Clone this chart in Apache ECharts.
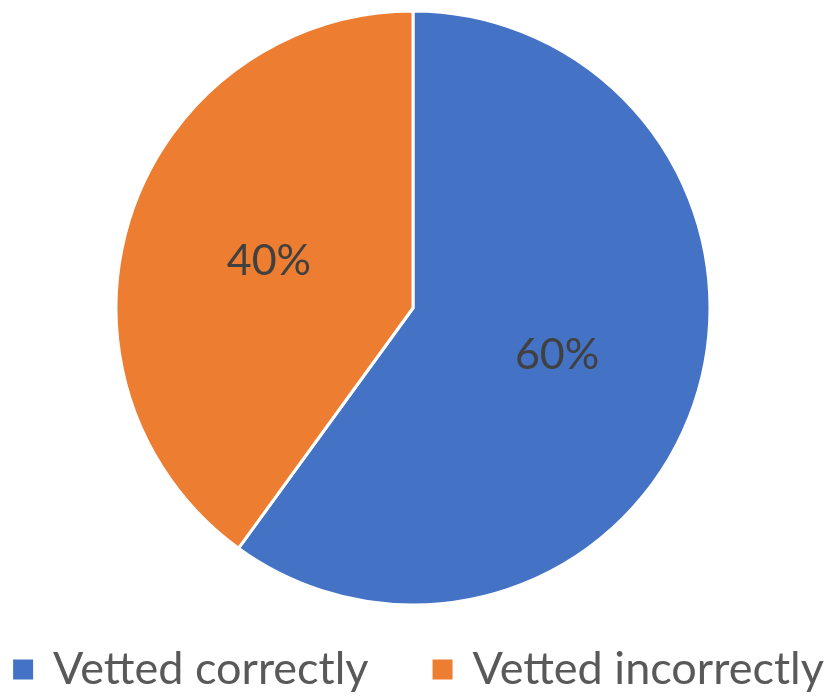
<!DOCTYPE html>
<html>
<head>
<meta charset="utf-8">
<script src="https://cdn.jsdelivr.net/npm/echarts@6/dist/echarts.min.js"></script>
<style>
html,body{margin:0;padding:0;background:#fff;}
#chart{width:835px;height:696px;}
</style>
</head>
<body>
<div id="chart"></div>
<script>
const categories = ["Vetted correctly", "Vetted incorrectly"];
const values = [60, 40];
const colors = ["#4472C4", "#ED7D31"];

const chart = echarts.init(document.getElementById('chart'), null, {renderer: 'canvas'});
chart.setOption({
  animation: false,
  color: colors,
  legend: {
    data: categories,
    left: 'center',
    top: 642,
    itemWidth: 22,
    itemHeight: 22,
    itemGap: 62,
    icon: 'rect',
    textStyle: {
      fontFamily: 'Lato',
      fontSize: 45,
      color: '#595959',
      padding: [0, 0, 0, 14]
    }
  },
  series: [{
    type: 'pie',
    center: [413, 308],
    radius: 297,
    startAngle: 90,
    clockwise: true,
    data: categories.map((c, i) => ({name: c, value: values[i]})),
    itemStyle: {borderColor: '#fff', borderWidth: 3},
    label: {
      show: true,
      position: 'inside',
      formatter: '{d}%',
      fontFamily: 'Lato',
      fontSize: 43,
      color: '#404040',
      padding: [6, 0, 0, 0]
    },
    labelLine: {show: false},
    emphasis: {disabled: true}
  }]
});
</script>
</body>
</html>
